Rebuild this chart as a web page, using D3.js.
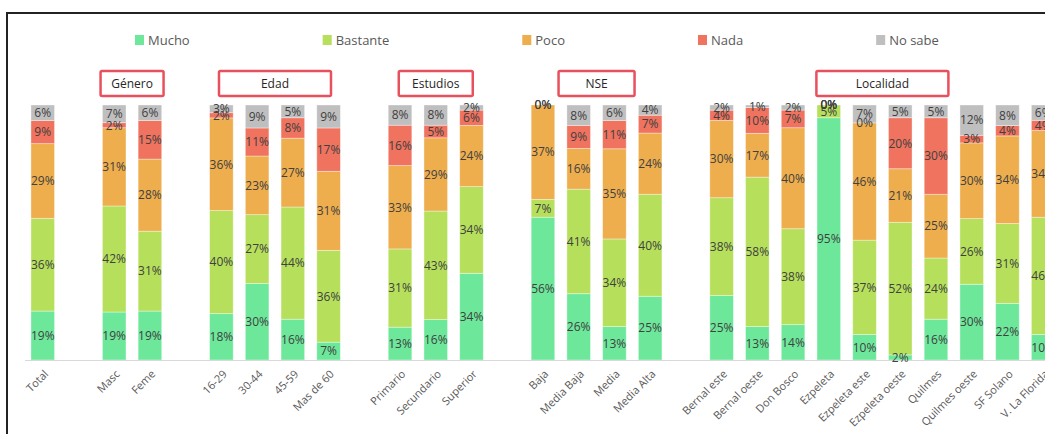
<!DOCTYPE html>
<html>
<head>
<meta charset="utf-8">
<script src="https://cdn.jsdelivr.net/npm/d3@7/dist/d3.min.js"></script>
<style>
  html, body { margin: 0; padding: 0; background: #fff; }
  svg { display: block; font-family: "Open Sans", "Noto Sans", sans-serif; }
</style>
</head>
<body>
<svg id="chart" width="1045" height="434"></svg>
<script>
// Response categories (stack order, bottom to top)
const seriesNames = ["Mucho", "Bastante", "Poco", "Nada", "No sabe"];
const seriesColors = ["#6de89b", "#b6e05c", "#eeae4e", "#ef735f", "#bfbfbf"];

// Segment groups and the bars inside each
const groups = [
  { title: null,        items: ["Total"] },
  { title: "Género",    items: ["Masc", "Feme"] },
  { title: "Edad",      items: ["16-29", "30-44", "45-59", "Mas de 60"] },
  { title: "Estudios",  items: ["Primario", "Secundario", "Superior"] },
  { title: "NSE",       items: ["Baja", "Media Baja", "Media", "Media Alta"] },
  { title: "Localidad", items: ["Bernal este", "Bernal oeste", "Don Bosco", "Ezpeleta",
                                "Ezpeleta este", "Ezpeleta oeste", "Quilmes", "Quilmes oeste",
                                "SF Solano", "V. La Florida"] }
];

// Percentages per series, one value per bar in the order above
const mucho    = [19, 19, 19, 18, 30, 16, 7, 13, 16, 34, 56, 26, 13, 25, 25, 13, 14, 95, 10, 2, 16, 30, 22, 10];
const bastante = [36, 42, 31, 40, 27, 44, 36, 31, 43, 34, 7, 41, 34, 40, 38, 58, 38, 5, 37, 52, 24, 26, 31, 46];
const poco     = [29, 31, 28, 36, 23, 27, 31, 33, 29, 24, 37, 16, 35, 24, 30, 17, 40, 0, 46, 21, 25, 30, 34, 34];
const nada     = [9, 2, 15, 2, 11, 8, 17, 16, 5, 6, 0, 9, 11, 7, 4, 10, 7, 0, 0, 20, 30, 3, 4, 4];
const noSabe   = [6, 7, 6, 3, 9, 5, 9, 8, 8, 2, 0, 8, 6, 4, 2, 1, 2, 0, 7, 5, 5, 12, 8, 6];

// Header box widths (layout only)
const headerWidths = { "Género": 63, "Edad": 112, "Estudios": 74, "NSE": 76, "Localidad": 132 };

const svg = d3.select("#chart");
const W = 1045, H = 434;

// Slot layout: one empty slot between groups
const categories = [];
const slotOf = {};
let slot = 0;
groups.forEach((g, gi) => {
  if (gi > 0) slot += 1;
  g.items.forEach(c => { categories.push(c); slotOf[c] = slot; slot += 1; });
});
const nSlots = slot;

const allSeries = [mucho, bastante, poco, nada, noSabe];
const rows = categories.map((c, i) => {
  const r = { category: c };
  seriesNames.forEach((s, k) => r[s] = allSeries[k][i]);
  r.total = d3.sum(seriesNames, s => r[s]);
  return r;
});

// Frame
svg.append("rect").attr("width", W).attr("height", H).attr("fill", "#fff");
svg.append("path")
  .attr("d", `M7,${H + 5} L7,13 L${W + 5},13`)
  .attr("fill", "none").attr("stroke", "#222").attr("stroke-width", 2);

// Scales
const x = d3.scaleBand()
  .domain(d3.range(nSlots))
  .range([18.8, 18.8 + 35.73 * (nSlots + 0.34)])
  .paddingInner(0.34).paddingOuter(0.34);
const y = d3.scaleLinear().domain([0, 1]).range([360, 105]);
const color = d3.scaleOrdinal().domain(seriesNames).range(seriesColors);

// 100% stack
const stacked = d3.stack()
  .keys(seriesNames)
  .value((d, key) => d[key] / d.total)(rows);

// Bars
const layer = svg.append("g").selectAll("g").data(stacked).join("g")
  .attr("fill", d => color(d.key));
layer.selectAll("rect").data(d => d).join("rect")
  .attr("x", d => x(slotOf[d.data.category]))
  .attr("width", x.bandwidth())
  .attr("y", d => y(d[1]))
  .attr("height", d => Math.max(0, y(d[0]) - y(d[1])))
  .attr("stroke", "#fff").attr("stroke-opacity", 0.45).attr("stroke-width", 0.8);

// Baseline
svg.append("line")
  .attr("x1", 25).attr("x2", W + 5)
  .attr("y1", y(0) + 0.5).attr("y2", y(0) + 0.5)
  .attr("stroke", "#d9d9d9").attr("stroke-width", 1);

// Data labels
const lab = svg.append("g").selectAll("g").data(stacked).join("g");
lab.selectAll("text").data(d => d.map(v => ({ v, key: d.key }))).join("text")
  .attr("x", d => x(slotOf[d.v.data.category]) + x.bandwidth() / 2)
  .attr("y", d => (y(d.v[0]) + y(d.v[1])) / 2)
  .attr("dy", "0.36em")
  .attr("text-anchor", "middle")
  .attr("font-size", 12)
  .attr("fill", "#404040")
  .text(d => d.v.data[d.key] + "%");

// Category axis labels, rotated
const xAxis = d3.axisBottom(d3.scaleOrdinal().domain(categories)
    .range(categories.map(c => x(slotOf[c]) + x.bandwidth() / 2)))
  .tickSize(0).tickPadding(0);
const axisG = svg.append("g").attr("transform", `translate(0,${y(0)})`).call(xAxis);
axisG.select(".domain").remove();
axisG.selectAll("text")
  .attr("font-family", "Open Sans, sans-serif")
  .attr("font-size", 11)
  .attr("fill", "#595959")
  .attr("text-anchor", "end")
  .attr("dy", "0.35em")
  .attr("transform", "translate(3,12) rotate(-45)");

// Group header boxes
groups.filter(g => g.title).forEach(g => {
  const x0 = x(slotOf[g.items[0]]);
  const x1 = x(slotOf[g.items[g.items.length - 1]]) + x.bandwidth();
  const cx = (x0 + x1) / 2;
  const w = headerWidths[g.title];
  svg.append("rect")
    .attr("x", cx - w / 2).attr("y", 71)
    .attr("width", w).attr("height", 25)
    .attr("rx", 1.5)
    .attr("fill", "#fff").attr("stroke", "#e9505e").attr("stroke-width", 2.5);
  svg.append("text")
    .attr("x", cx).attr("y", 83.5).attr("dy", "0.35em")
    .attr("text-anchor", "middle")
    .attr("font-size", 12).attr("fill", "#262626")
    .text(g.title);
});

// Legend, laid out by text width
const legend = svg.append("g").attr("transform", "translate(135,40)");
let lx = 0;
seriesNames.forEach(s => {
  const item = legend.append("g").attr("transform", `translate(${lx},0)`);
  item.append("rect").attr("x", 0).attr("y", -5).attr("width", 9).attr("height", 10).attr("fill", color(s));
  const t = item.append("text").attr("x", 13).attr("dy", "0.35em")
    .attr("font-size", 13).attr("fill", "#595959").text(s);
  lx += 13 + t.node().getComputedTextLength() + 133;
});
</script>
</body>
</html>
